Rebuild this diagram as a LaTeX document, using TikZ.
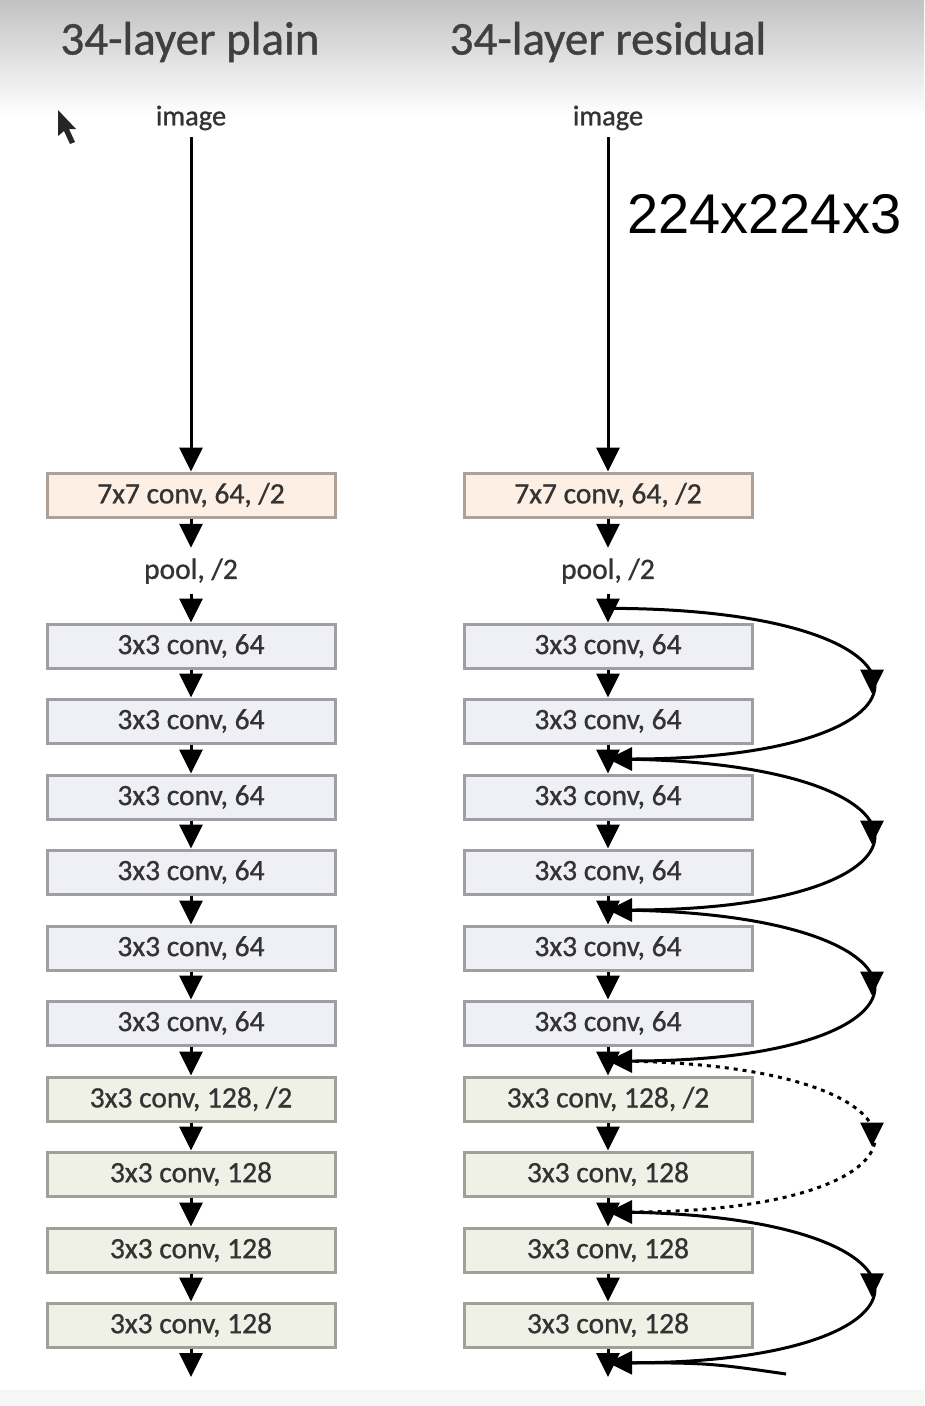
\documentclass[tikz,border=0pt]{standalone}
\usepackage{fontspec}
\setmainfont{Carlito}
\newfontfamily\boxfont{Carlito}[FakeBold=0.9]
\newfontfamily\arialfont{Liberation Sans}
\usetikzlibrary{arrows.meta,decorations.markings,calc}
\definecolor{bgtop}{HTML}{C2C2C2}
\definecolor{bgbot}{HTML}{F6F6F6}
\definecolor{txt}{HTML}{333333}
\definecolor{ttl}{HTML}{404040}
\definecolor{peachfill}{HTML}{FDEFE4}
\definecolor{peachdraw}{HTML}{ADA198}
\definecolor{lavfill}{HTML}{EFEFF6}
\definecolor{lavdraw}{HTML}{9E9EA4}
\definecolor{grnfill}{HTML}{EFF1E7}
\definecolor{grndraw}{HTML}{9FA199}
\begin{document}
\begin{tikzpicture}[x=1pt,y=-1pt,
  tip/.style={-{Triangle[length=24pt,width=23pt]}},
  arr/.style={line width=3pt,draw=black,tip},
  layerbox/.style={line width=3pt,minimum width=288pt,minimum height=44pt,inner sep=0pt,
     font=\boxfont\fontsize{29.5}{32}\selectfont,text=txt},
  convone/.style={layerbox,draw=peachdraw,fill=peachfill},
  convsf/.style={layerbox,draw=lavdraw,fill=lavfill},
  convot/.style={layerbox,draw=grndraw,fill=grnfill},
  plaintext/.style={inner sep=0pt,minimum height=38pt,font=\boxfont\fontsize{28.5}{30}\selectfont,text=txt},
  pooltext/.style={inner sep=0pt,minimum height=46pt,font=\boxfont\fontsize{29.5}{32}\selectfont,text=txt},
  title/.style={inner sep=0pt,font=\boxfont\fontsize{47}{52}\selectfont,text=ttl},
  skip/.style={line width=3pt,draw=black,tip,
     postaction={decorate},
     decoration={markings,mark=at position 0.5 with {\arrow[line width=3pt,xshift=10pt]{Triangle[length=24pt,width=23pt]}}}},
  dotskip/.style={skip,dash pattern=on 4pt off 5pt}
]
\useasboundingbox (0,0) rectangle (924,1406);
\fill[white] (0,0) rectangle (924,1406);
\shade[top color=bgtop,bottom color=white] (0,0) rectangle (924,115);
\fill[bgbot] (0,1390) rectangle (924,1406);

% mouse cursor
\fill[black!85] (58,110) -- (58,136) -- (64,131) -- (70,144) -- (75,142) -- (69,129) -- (76,129) -- cycle;

\node[title] (tplain) at (190,42) {34-layer plain};
\node[title] (tres) at (608,42) {34-layer residual};

\foreach \c/\x in {L/191,R/608}{
  \node[plaintext] (\c img) at (\x,118) {image};
  \node[convone] (\c c1) at (\x,495) {7x7 conv, 64, /2};
  \node[pooltext] (\c pool) at (\x,571) {pool, /2};
  \node[convsf] (\c b1) at (\x,646) {3x3 conv, 64};
  \node[convsf] (\c b2) at (\x,721) {3x3 conv, 64};
  \node[convsf] (\c b3) at (\x,797) {3x3 conv, 64};
  \node[convsf] (\c b4) at (\x,872) {3x3 conv, 64};
  \node[convsf] (\c b5) at (\x,948) {3x3 conv, 64};
  \node[convsf] (\c b6) at (\x,1023) {3x3 conv, 64};
  \node[convot] (\c b7) at (\x,1099) {3x3 conv, 128, /2};
  \node[convot] (\c b8) at (\x,1174) {3x3 conv, 128};
  \node[convot] (\c b9) at (\x,1250) {3x3 conv, 128};
  \node[convot] (\c b10) at (\x,1325) {3x3 conv, 128};
  \coordinate (\c end) at (\x,1377);
  \draw[arr] (\c img) -- (\c c1);
  \draw[arr] (\c c1) -- (\c pool);
  \draw[arr] (\c pool) -- (\c b1);
  \draw[arr] (\c b1) -- (\c b2);
  \draw[arr] (\c b2) -- (\c b3);
  \draw[arr] (\c b3) -- (\c b4);
  \draw[arr] (\c b4) -- (\c b5);
  \draw[arr] (\c b5) -- (\c b6);
  \draw[arr] (\c b6) -- (\c b7);
  \draw[arr] (\c b7) -- (\c b8);
  \draw[arr] (\c b8) -- (\c b9);
  \draw[arr] (\c b9) -- (\c b10);
  \draw[arr] (\c b10) -- (\c end);
}

\node[anchor=west,inner sep=0pt,font=\arialfont\fontsize{56}{62}\selectfont] (dims) at (627,214) {224x224x3};

\coordinate (s0) at ($(Rpool.south)!0.5!(Rb1.north)$);
\coordinate (s1) at ($(Rb2.south)!0.5!(Rb3.north)$);
\coordinate (s2) at ($(Rb4.south)!0.5!(Rb5.north)$);
\coordinate (s3) at ($(Rb6.south)!0.5!(Rb7.north)$);
\coordinate (s4) at ($(Rb8.south)!0.5!(Rb9.north)$);
\coordinate (s5) at ($(Rb10.south)!0.5!(Rend)$);
\coordinate (cut) at (786,1374);

\draw[skip] (s0) .. controls +(352,0) and +(352,0) .. (s1);
\draw[skip] (s1) .. controls +(352,0) and +(352,0) .. (s2);
\draw[skip] (s2) .. controls +(352,0) and +(352,0) .. (s3);
\draw[dotskip] (s3) .. controls +(352,0) and +(352,0) .. (s4);
\draw[skip] (s4) .. controls +(352,0) and +(352,0) .. (s5);
\draw[line width=3pt] (s5) .. controls +(100,0) .. (cut);
\end{tikzpicture}
\end{document}
